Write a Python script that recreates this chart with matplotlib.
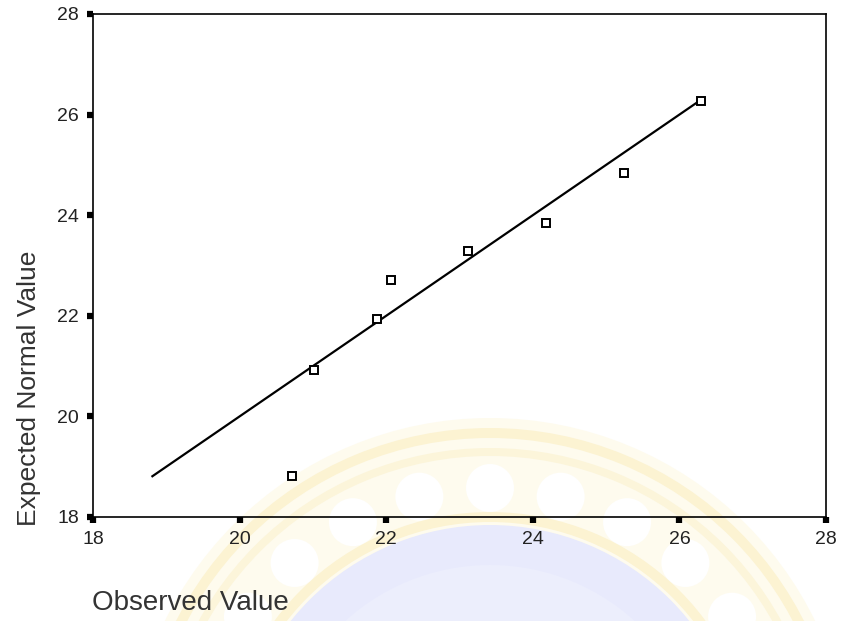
import matplotlib
matplotlib.use("Agg")
import matplotlib.pyplot as plt
from matplotlib.patches import Circle, Wedge
import numpy as np

plt.rcParams['font.family'] = ['Liberation Sans', 'DejaVu Sans']

# normal Q-Q plot values
observed = [20.71, 21.01, 21.87, 22.06, 23.11, 24.18, 25.25, 26.30]
expected = [18.81, 20.92, 21.94, 22.72, 23.29, 23.84, 24.84, 26.26]
ticks = [18, 20, 22, 24, 26, 28]

fig = plt.figure(figsize=(8.41, 6.21), dpi=100)

# faint seal in the background, drawn in pixel space
bg = fig.add_axes([0, 0, 1, 1], zorder=-1)
bg.set_xlim(0, 841)
bg.set_ylim(621, 0)
bg.axis('off')
cx, cy = 490, 780
bg.add_patch(Circle((cx, cy), 362, color='#fefbee', lw=0))
bg.add_patch(Wedge((cx, cy), 352, 0, 360, width=10, color='#fcf3d2', lw=0))
bg.add_patch(Wedge((cx, cy), 332, 0, 360, width=8, color='#fcf5da', lw=0))
for ang in np.arange(200, 345, 14):
    a = np.radians(ang)
    bg.add_patch(Circle((cx + 292 * np.cos(a), cy + 292 * np.sin(a)), 24,
                        color='#ffffff', lw=0))
bg.add_patch(Wedge((cx, cy), 268, 0, 360, width=10, color='#fcf3d2', lw=0))
bg.add_patch(Circle((cx, cy), 255, color='#e8eafc', lw=0))
bg.add_patch(Circle((cx, cy), 215, color='#eceefc', lw=0))

ax = fig.add_axes([0.1106, 0.1675, 0.8716, 0.81])
ax.set_facecolor('none')

lo = min(min(observed), min(expected))
hi = max(max(observed), max(expected))
ax.plot([lo, hi], [lo, hi], color='black', lw=1.6, zorder=2)
ax.plot(observed, expected, linestyle='none', marker='s', markersize=6,
        markerfacecolor='white', markeredgecolor='black', markeredgewidth=1.4,
        zorder=3)

ax.set_xlim(18, 28)
ax.set_ylim(18, 28)
ax.set_xticks(ticks)
ax.set_yticks(ticks)
ax.tick_params(direction='out', length=4, width=4.5, colors='black',
               labelcolor='#222222', labelsize=14, pad=6)
for s in ax.spines.values():
    s.set_linewidth(1.2)
    s.set_color('black')

fig.text(92 / 841, 1 - 603 / 621, 'Observed Value', fontsize=20,
         color='#333333', ha='left', va='center')
fig.text(29 / 841, 1 - 388 / 621, 'Expected Normal Value', fontsize=19,
         color='#333333', ha='center', va='center', rotation=90)

fig.savefig('out.png', dpi=100)
